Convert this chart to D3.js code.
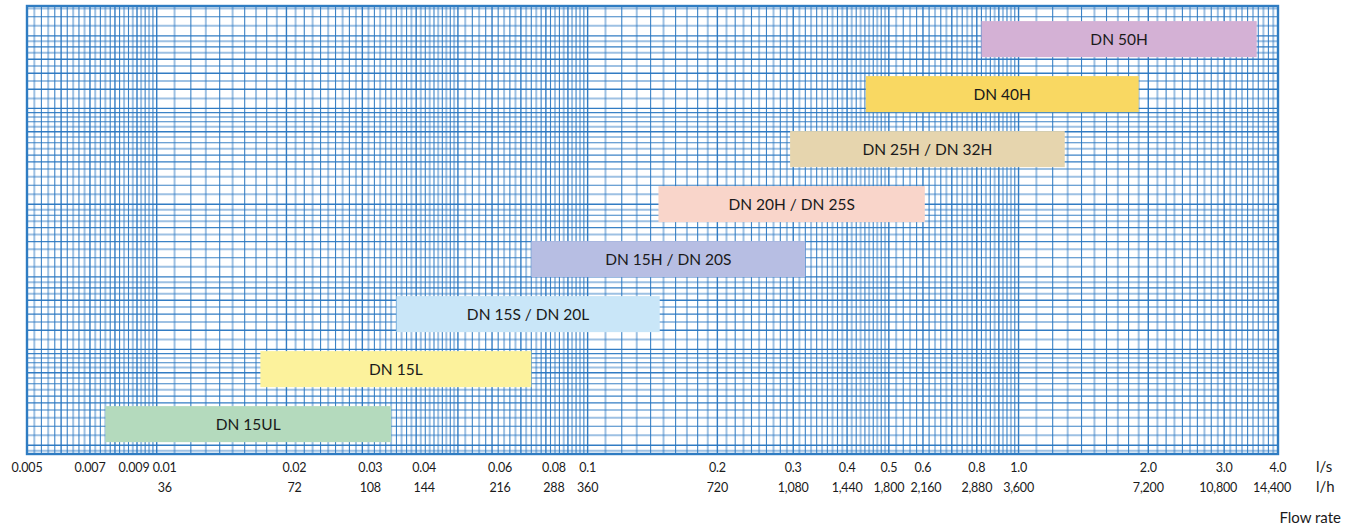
<!DOCTYPE html>
<html>
<head>
<meta charset="utf-8">
<script src="https://cdn.jsdelivr.net/npm/d3@7"></script>
<style>
html,body{margin:0;padding:0;background:#fff;}
svg{display:block;font-family:Lato,"Open Sans",sans-serif;}
</style>
</head>
<body>
<svg id="chart" width="1354" height="528"></svg>
<script>
// ---- data ----
const categories = ["DN 50H","DN 40H","DN 25H / DN 32H","DN 20H / DN 25S","DN 15H / DN 20S","DN 15S / DN 20L","DN 15L","DN 15UL"];
const rangeMin = [0.82, 0.442, 0.295, 0.146, 0.074, 0.036, 0.0174, 0.0076];
const rangeMax = [3.57, 1.9, 1.28, 0.606, 0.32, 0.147, 0.074, 0.035];
const barColors = ["#d4b1d5","#f9d862","#e6d5ae","#f9d5ca","#b7bee3","#c9e6f8","#fcf29c","#b4dabd"];
const tickLs = [0.005,0.007,0.009,0.01,0.02,0.03,0.04,0.06,0.08,0.1,0.2,0.3,0.4,0.5,0.6,0.8,1.0,2.0,3.0,4.0];
const tickLsLabels = ["0.005","0.007","0.009","0.01","0.02","0.03","0.04","0.06","0.08","0.1","0.2","0.3","0.4","0.5","0.6","0.8","1.0","2.0","3.0","4.0"];
const tickLh = [36,72,108,144,216,288,360,720,1080,1440,1800,2160,2880,3600,7200,10800,14400];
const unitLabels = ["l/s","l/h"];
const axisTitle = "Flow rate";

(function(){
const svg = d3.select("#chart");
const pL = 27, pR = 1278, pT = 6, pB = 454;

const x = d3.scaleLog().domain([0.005, 4]).range([pL, pR]);
const yBand = d3.scaleBand().domain(categories).range([pT, pB])
  .paddingInner(0.345).paddingOuter(0.245).align(0.56);
const yGrid = d3.scaleLog().domain([1.84, 133]).range([pB, pT]);

// log-paper grid generator
function logPaper(lo, hi, segs) {
  const out = [];
  const d0 = Math.floor(Math.log10(lo)), d1 = Math.ceil(Math.log10(hi));
  for (let d = d0; d <= d1; d++) {
    const p = Math.pow(10, d);
    segs.forEach(([a,b,s]) => {
      let idx = 0;
      for (let k = a; k < b - 1e-9; k += s, idx++) {
        const kk = Math.round(k*1000)/1000;
        const v = kk * p;
        if (v < lo*0.9999 || v > hi*1.0001) continue;
        const isMajor = Math.abs(kk - Math.round(kk)) < 1e-6;
        out.push({v, cls: isMajor ? "major" : (idx % 2 === 0 ? "mid" : "minor")});
      }
    });
  }
  return out;
}

const grid = svg.append("g");
const gridColor = "#2775c0";
const styleOf = c => c === "major" ? {w:1.4, o:0.95} : c === "mid" ? {w:1.1, o:0.9} : {w:2, o:0.45};

const vLines = logPaper(0.005, 4, [[1,5,0.1],[5,10,0.2]]);
grid.selectAll("line.v").data(vLines).join("line")
  .attr("x1", d => x(d.v)).attr("x2", d => x(d.v))
  .attr("y1", pT).attr("y2", pB)
  .attr("stroke", gridColor)
  .attr("stroke-width", d => styleOf(d.cls).w)
  .attr("stroke-opacity", d => styleOf(d.cls).o);

const hLines = logPaper(1.84, 133, [[1,2,0.1],[2,5,0.2],[5,10,0.5]]);
grid.selectAll("line.h").data(hLines).join("line")
  .attr("y1", d => yGrid(d.v)).attr("y2", d => yGrid(d.v))
  .attr("x1", pL).attr("x2", pR)
  .attr("stroke", gridColor)
  .attr("stroke-width", d => styleOf(d.cls).w)
  .attr("stroke-opacity", d => styleOf(d.cls).o);

svg.append("rect")
  .attr("x", pL).attr("y", pT)
  .attr("width", pR - pL).attr("height", pB - pT)
  .attr("fill", "none").attr("stroke", "#2f7cc2").attr("stroke-width", 2.4);

// bars
const bars = svg.append("g").selectAll("g").data(categories).join("g");
bars.append("rect")
  .attr("x", (d,i) => x(rangeMin[i]))
  .attr("y", d => yBand(d))
  .attr("width", (d,i) => x(rangeMax[i]) - x(rangeMin[i]))
  .attr("height", yBand.bandwidth())
  .attr("fill", (d,i) => barColors[i]);
bars.append("text")
  .attr("x", (d,i) => (x(rangeMin[i]) + x(rangeMax[i])) / 2)
  .attr("y", d => yBand(d) + yBand.bandwidth()/2)
  .attr("dy", "0.36em")
  .attr("text-anchor", "middle")
  .attr("font-size", 15.5)
  .attr("fill", "#1a1a1a")
  .text(d => d);

// axis labels
const fmt = d3.format(",");
const lsShift = d => d >= 0.01 && d < 0.1 ? 8 : (d < 0.01 && d > 0.008 ? -3 : 0);
svg.append("g").selectAll("text").data(tickLs).join("text")
  .attr("x", d => x(d) + lsShift(d))
  .attr("y", 472)
  .attr("text-anchor", "middle")
  .attr("font-size", 12.5)
  .attr("letter-spacing", -0.2)
  .attr("fill", "#1a1a1a")
  .text((d,i) => tickLsLabels[i]);

svg.append("g").selectAll("text").data(tickLh).join("text")
  .attr("x", d => x(d/3600) + (d < 360 ? 8 : (d >= 10000 ? -6 : (d === 2160 ? 3 : 0))))
  .attr("y", 492)
  .attr("text-anchor", "middle")
  .attr("font-size", 12.5)
  .attr("letter-spacing", -0.2)
  .attr("fill", "#1a1a1a")
  .text(d => fmt(d));

svg.append("text").attr("x", 1316).attr("y", 472).attr("font-size", 15).attr("fill", "#1a1a1a").text(unitLabels[0]);
svg.append("text").attr("x", 1316).attr("y", 492).attr("font-size", 15).attr("fill", "#1a1a1a").text(unitLabels[1]);
svg.append("text").attr("x", 1341).attr("y", 523).attr("text-anchor", "end").attr("font-size", 15).attr("fill", "#1a1a1a").text(axisTitle);
})();
</script>
</body>
</html>
